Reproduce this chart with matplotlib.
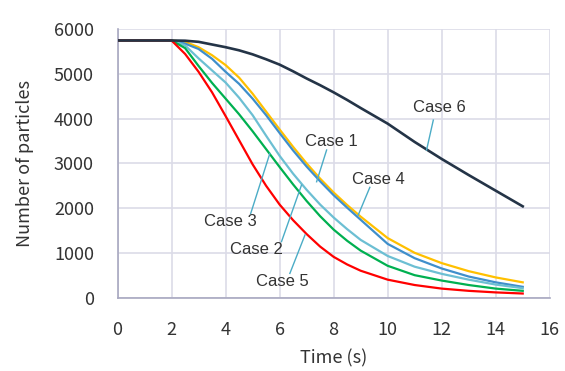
import numpy as np
import matplotlib
matplotlib.use("Agg")
from matplotlib import pyplot as plt

# Time axis (s) shared by all cases
time = [0, 1, 2, 2.5, 3, 3.5, 4, 4.5, 5, 5.5, 6, 6.5, 7, 7.5, 8, 8.5, 9, 10, 11, 12, 13, 14, 15]

# Number of particles
case1 = [5750, 5750, 5750, 5680, 5560, 5340, 5050, 4780, 4450, 4080, 3680, 3290, 2930, 2600, 2290, 2010, 1740, 1200, 880, 650, 470, 340, 240]
case2 = [5750, 5750, 5750, 5640, 5350, 5080, 4810, 4470, 4080, 3620, 3170, 2770, 2410, 2080, 1790, 1530, 1290, 930, 690, 530, 400, 290, 210]
case3 = [5750, 5750, 5750, 5580, 5180, 4800, 4450, 4100, 3720, 3320, 2920, 2530, 2160, 1820, 1520, 1270, 1050, 710, 500, 380, 280, 200, 150]
case4 = [5750, 5750, 5750, 5720, 5600, 5420, 5200, 4920, 4560, 4160, 3760, 3370, 3000, 2660, 2350, 2070, 1810, 1330, 1000, 770, 590, 450, 340]
case5 = [5750, 5750, 5750, 5450, 5050, 4590, 4060, 3520, 2980, 2500, 2080, 1730, 1420, 1140, 910, 740, 600, 400, 280, 200, 150, 115, 90]
case6 = [5750, 5750, 5750, 5745, 5720, 5660, 5600, 5530, 5440, 5330, 5210, 5060, 4900, 4750, 4590, 4420, 4240, 3890, 3480, 3100, 2740, 2390, 2040]

series = [case4, case1, case2, case3, case5, case6]
colors = ["#FFC000", "#3F8FCB", "#6CBFD3", "#00B050", "#FF0000", "#243447"]

# label text, text position, leader start, leader end
labels = ["Case 6", "Case 1", "Case 4", "Case 3", "Case 2", "Case 5"]
label_pos = [(11.9, 4260), (7.9, 3500), (9.64, 2630), (4.16, 1690), (5.16, 1085), (6.09, 370)]
leader_from = [(11.69, 3970), (7.74, 3300), (9.34, 2465), (4.93, 1880), (6.07, 1250), (6.38, 540)]
leader_to = [(11.44, 3300), (7.37, 2590), (8.91, 1845), (5.64, 3225), (6.81, 2515), (6.94, 1400)]

fig = plt.figure(figsize=(5.65, 3.71), dpi=100)
ax = fig.add_axes([0.208, 0.198, 0.765, 0.723])

for ys, c in zip(series, colors):
    lw = 1.9 if c == "#243447" else 1.6
    ax.plot(time, ys, color=c, lw=lw, zorder=3)

for txt, p, a, b in zip(labels, label_pos, leader_from, leader_to):
    ax.plot([a[0], b[0]], [a[1], b[1]], color="#4BACC6", lw=1.0, zorder=4)
    ax.text(p[0], p[1], txt, ha="center", va="center", fontsize=12,
            family="Liberation Sans", color="#333333", zorder=5)

ax.set_xlim(0, 16)
ax.set_ylim(0, 6000)
ax.set_xticks(np.arange(0, 17, 2))
ax.set_yticks(np.arange(0, 6001, 1000))
ax.grid(True, color="#DCDCE8", lw=1.2)
ax.set_axisbelow(True)
for s in ["top", "right"]:
    ax.spines[s].set_visible(False)
for s in ["left", "bottom"]:
    ax.spines[s].set_color("#A8A8C0")
    ax.spines[s].set_linewidth(1.2)
ax.tick_params(length=0, labelsize=13, colors="#333333", pad=17)
for lab in ax.get_xticklabels() + ax.get_yticklabels():
    lab.set_family("Noto Sans CJK SC")

ax.set_xlabel("Time (s)", fontsize=13, family="Noto Sans CJK SC", color="#333333", labelpad=7)
ax.set_ylabel("Number of particles", fontsize=13, family="Noto Sans CJK SC", color="#333333", labelpad=14)

fig.savefig("out.png", dpi=100)
